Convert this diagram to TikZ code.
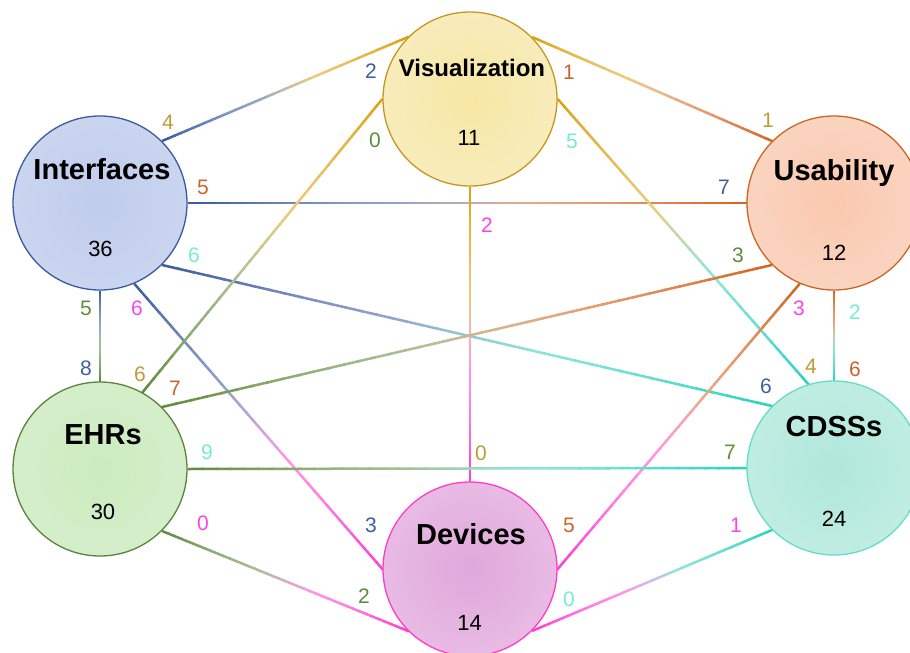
\documentclass[tikz,border=0pt]{standalone}
\usepackage{fontspec}
\setmainfont{Liberation Sans}
\usetikzlibrary{calc,backgrounds}

% topic colours: border, connector, count label, fill (centre / rim)
\definecolor{intB}{HTML}{3A5A9E}\definecolor{intE}{HTML}{3A5A9E}\definecolor{intL}{HTML}{3F5FA0}
\definecolor{intI}{HTML}{BFCCEC}\definecolor{intO}{HTML}{D5DEF3}
\definecolor{visB}{HTML}{C8961E}\definecolor{visE}{HTML}{DDA010}\definecolor{visL}{HTML}{C09A35}
\definecolor{visI}{HTML}{F6E7A4}\definecolor{visO}{HTML}{F9F2D2}
\definecolor{usaB}{HTML}{CD6420}\definecolor{usaE}{HTML}{D2641E}\definecolor{usaL}{HTML}{C8642D}
\definecolor{usaI}{HTML}{FAC8AE}\definecolor{usaO}{HTML}{FBE0D2}
\definecolor{ehrB}{HTML}{5A823C}\definecolor{ehrE}{HTML}{5F8A3C}\definecolor{ehrL}{HTML}{5F8C3C}
\definecolor{ehrI}{HTML}{CBEBBE}\definecolor{ehrO}{HTML}{DFF2D7}
\definecolor{cdsB}{HTML}{64DCC8}\definecolor{cdsE}{HTML}{28D2BE}\definecolor{cdsL}{HTML}{78EBCD}
\definecolor{cdsI}{HTML}{AFE7DA}\definecolor{cdsO}{HTML}{D2F3EB}
\definecolor{devB}{HTML}{FF3CC8}\definecolor{devE}{HTML}{FF3CD2}\definecolor{devL}{HTML}{FA46E6}
\definecolor{devI}{HTML}{E0A8DB}\definecolor{devO}{HTML}{EFCDEC}

\colorlet{glowin}{white}\colorlet{glowout}{white}
\pgfdeclareradialshading[glowin,glowout]{glow}{\pgfpoint{0bp}{0bp}}%
  {color(0bp)=(glowin); color(50bp)=(glowout)}

\tikzset{
  topic/.style n args={3}{circle, minimum size=174pt, inner sep=0pt, draw=#1,
    line width=1.3pt, /utils/exec={\colorlet{glowin}{#2}\colorlet{glowout}{#3}},
    shade, shading=glow},
  topicname/.style={font=\bfseries\fontsize{29}{29}\selectfont, anchor=base},
  topiccount/.style={font=\fontsize{22}{22}\selectfont, anchor=base},
  linkcount/.style={font=\fontsize{21}{21}\selectfont, anchor=base},
  linkline/.style={line width=2.5pt, line cap=butt},
}

% connector between two ports on the topic circles, shaded from the
% colour of the first topic to the colour of the second, paler in the middle
\newcommand\topiclink[4]{%
  \coordinate (ls) at (#1);
  \coordinate (le) at (#2);
  \foreach \k in {0,...,39}{%
    \pgfmathsetmacro\ta{\k/40}%
    \pgfmathsetmacro\tb{(\k+1.15)/40}%
    \pgfmathsetmacro\tm{(\k+0.5)/40}%
    \pgfmathsetmacro\lit{100-48*sin(180*\tm)}%
    \pgfmathsetmacro\mixa{min(100,max(0,(0.62-\tm)/0.24*100))}%
    \draw[linkline, draw={#3!\mixa!#4!\lit!white}]
      ($(ls)!\ta!(le)$) -- ($(ls)!\tb!(le)$);
  }%
}

\begin{document}
\begin{tikzpicture}[x=1pt, y=-1pt]
\clip (0,0) rectangle (910,653);

% topics
\node[topic={intB}{intI}{intO}] (int) at (100,203) {};
\node[topic={visB}{visI}{visO}] (vis) at (470,99) {};
\node[topic={usaB}{usaI}{usaO}] (usa) at (834,203) {};
\node[topic={ehrB}{ehrI}{ehrO}] (ehr) at (100,469) {};
\node[topic={cdsB}{cdsI}{cdsO}] (cds) at (834,468) {};
\node[topic={devB}{devI}{devO}] (dev) at (470,569) {};

\node[topicname] (int-name) at (102,179.5) {Interfaces};
\node[topicname, font=\bfseries\fontsize{24}{24}\selectfont] (vis-name) at (472,76.5) {Visualization};
\node[topicname] (usa-name) at (834,180.5) {Usability};
\node[topicname] (ehr-name) at (103,444.5) {EHRs};
\node[topicname] (cds-name) at (834,436.5) {CDSSs};
\node[topicname] (dev-name) at (471,544.5) {Devices};

\node[topiccount] (int-count) at (100.5,256) {36};
\node[topiccount] (vis-count) at (469,145) {11};
\node[topiccount] (usa-count) at (834,260) {12};
\node[topiccount] (ehr-count) at (103,519) {30};
\node[topiccount] (cds-count) at (834,526) {24};
\node[topiccount] (dev-count) at (469.5,630) {14};

% connectors, each leaving its topic at a fixed port on the circle
\begin{scope}[on background layer]
\topiclink{int.45}{vis.135}{intE}{visE}
\topiclink{int.0}{usa.180}{intE}{usaE}
\topiclink{int.270}{ehr.90}{intE}{ehrE}
\topiclink{int.-67.5}{dev.180}{intE}{devE}
\topiclink{int.-45}{cds.135}{intE}{cdsE}
\topiclink{vis.45}{usa.135}{visE}{usaE}
\topiclink{vis.180}{ehr.61}{visE}{ehrE}
\topiclink{vis.270}{dev.90}{visE}{devE}
\topiclink{vis.0}{cds.107}{visE}{cdsE}
\topiclink{usa.225}{ehr.45}{usaE}{ehrE}
\topiclink{usa.247.5}{dev.0}{usaE}{devE}
\topiclink{usa.270}{cds.90}{usaE}{cdsE}
\topiclink{ehr.0}{cds.180}{ehrE}{cdsE}
\topiclink{ehr.-45}{dev.225}{ehrE}{devE}
\topiclink{dev.-45}{cds.225}{devE}{cdsE}
\end{scope}

% shared counts at each end of the connectors
\node[linkcount, text=visL] (n-int-vis) at (168,129) {4};
\node[linkcount, text=intL] (n-vis-int) at (371,78) {2};
\node[linkcount, text=usaL] (n-int-usa) at (203,194) {5};
\node[linkcount, text=intL] (n-usa-int) at (724,194) {7};
\node[linkcount, text=ehrL] (n-int-ehr) at (86,315) {5};
\node[linkcount, text=intL] (n-ehr-int) at (86,375) {8};
\node[linkcount, text=devL] (n-int-dev) at (137,315) {6};
\node[linkcount, text=intL] (n-dev-int) at (371,532) {3};
\node[linkcount, text=cdsL] (n-int-cds) at (194,262) {6};
\node[linkcount, text=intL] (n-cds-int) at (766,393) {6};
\node[linkcount, text=usaL] (n-vis-usa) at (569,79) {1};
\node[linkcount, text=visL] (n-usa-vis) at (768,127) {1};
\node[linkcount, text=ehrL] (n-vis-ehr) at (375,147) {0};
\node[linkcount, text=visL] (n-ehr-vis) at (140,381) {6};
\node[linkcount, text=devL] (n-vis-dev) at (487,232) {2};
\node[linkcount, text=visL] (n-dev-vis) at (481,460) {0};
\node[linkcount, text=cdsL] (n-vis-cds) at (572,148) {5};
\node[linkcount, text=visL] (n-cds-vis) at (811,373) {4};
\node[linkcount, text=ehrL] (n-usa-ehr) at (738,262) {3};
\node[linkcount, text=usaL] (n-ehr-usa) at (175,395) {7};
\node[linkcount, text=devL] (n-usa-dev) at (799,315) {3};
\node[linkcount, text=usaL] (n-dev-usa) at (569,532) {5};
\node[linkcount, text=cdsL] (n-usa-cds) at (855,319) {2};
\node[linkcount, text=usaL] (n-cds-usa) at (855,376) {6};
\node[linkcount, text=cdsL] (n-ehr-cds) at (207,459) {9};
\node[linkcount, text=ehrL] (n-cds-ehr) at (730,459) {7};
\node[linkcount, text=devL] (n-ehr-dev) at (203,530) {0};
\node[linkcount, text=ehrL] (n-dev-ehr) at (364,603) {2};
\node[linkcount, text=devL] (n-cds-dev) at (736,532) {1};
\node[linkcount, text=cdsL] (n-dev-cds) at (569,606) {0};
\end{tikzpicture}
\end{document}
